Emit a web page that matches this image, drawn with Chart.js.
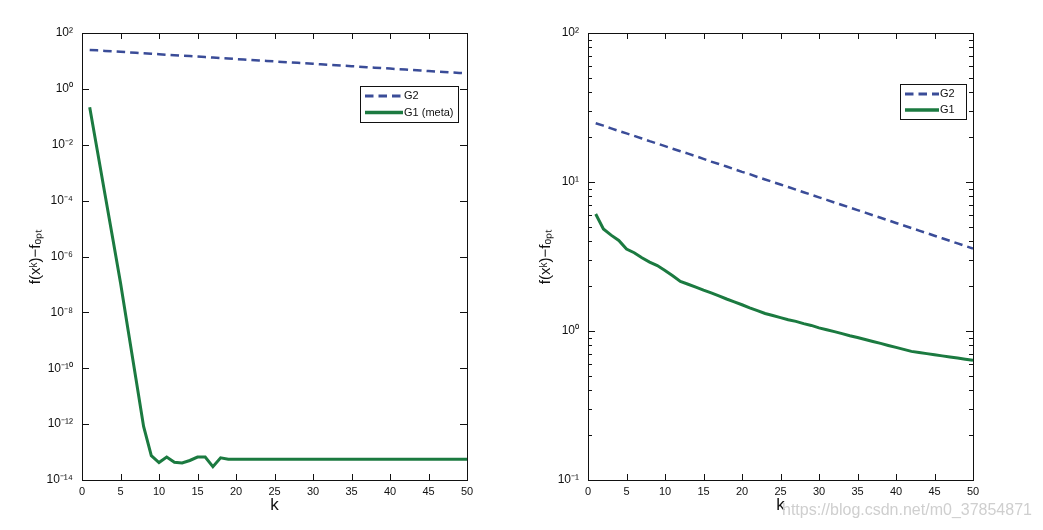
<!DOCTYPE html>
<html>
<head>
<meta charset="utf-8">
<title>G1 vs G2</title>
<script src="https://cdn.jsdelivr.net/npm/chart.js@4"></script>
<style>
  html, body { margin: 0; padding: 0; background: #fff; }
  #page { position: relative; width: 1043px; height: 530px; overflow: hidden; }
  .box { position: absolute; top: 0; height: 530px; }
  #leftBox { left: 0; width: 521px; }
  #rightBox { left: 521px; width: 522px; }
  #mark {
    position: absolute; left: 782px; top: 501px;
    font: 16px "Liberation Sans", Arial, sans-serif; color: #cfcfcf;
  }
</style>
</head>
<body>
<div id="page">
  <div class="box" id="leftBox"><canvas id="leftChart"></canvas></div>
  <div class="box" id="rightBox"><canvas id="rightChart"></canvas></div>
  <div id="mark">https://blog.csdn.net/m0_37854871</div>
</div>
<script>
// iteration index
const kValues = [1, 2, 3, 4, 5, 6, 7, 8, 9, 10, 11, 12, 13, 14, 15, 16, 17, 18, 19, 20,
  21, 22, 23, 24, 25, 26, 27, 28, 29, 30, 31, 32, 33, 34, 35, 36, 37, 38, 39, 40,
  41, 42, 43, 44, 45, 46, 47, 48, 49, 50];

// G2 (same run on both panels)
const g2Values = [24.8, 23.9, 22.9, 22.0, 21.2, 20.4, 19.6, 18.8, 18.1, 17.4,
  16.7, 16.1, 15.5, 14.9, 14.3, 13.7, 13.2, 12.7, 12.2, 11.7,
  11.3, 10.8, 10.4, 10.0, 9.62, 9.25, 8.89, 8.54, 8.21, 7.89,
  7.59, 7.29, 7.01, 6.74, 6.48, 6.23, 5.98, 5.75, 5.53, 5.31,
  5.11, 4.91, 4.72, 4.54, 4.36, 4.19, 4.03, 3.87, 3.72, 3.58];

// G1 (meta), left panel
const g1MetaValues = [0.22, 6e-3, 1.6e-4, 4.3e-6, 1.15e-7, 2.2e-9, 4.3e-11, 8.3e-13, 7.4e-14, 4.2e-14,
  6.6e-14, 4.3e-14, 4.1e-14, 5.0e-14, 6.6e-14, 6.6e-14, 3.0e-14, 6.2e-14, 5.5e-14, 5.5e-14,
  5.5e-14, 5.5e-14, 5.5e-14, 5.5e-14, 5.5e-14, 5.5e-14, 5.5e-14, 5.5e-14, 5.5e-14, 5.5e-14,
  5.5e-14, 5.5e-14, 5.5e-14, 5.5e-14, 5.5e-14, 5.5e-14, 5.5e-14, 5.5e-14, 5.5e-14, 5.5e-14,
  5.5e-14, 5.5e-14, 5.5e-14, 5.5e-14, 5.5e-14, 5.5e-14, 5.5e-14, 5.5e-14, 5.5e-14, 5.5e-14];

// G1, right panel
const g1Values = [6.1, 4.84, 4.4, 4.05, 3.55, 3.35, 3.1, 2.9, 2.75, 2.55,
  2.35, 2.15, 2.06, 1.97, 1.88, 1.80, 1.72, 1.64, 1.57, 1.50,
  1.43, 1.37, 1.31, 1.27, 1.23, 1.19, 1.16, 1.12, 1.09, 1.05,
  1.02, 0.99, 0.96, 0.93, 0.905, 0.877, 0.851, 0.826, 0.80, 0.776,
  0.753, 0.73, 0.718, 0.705, 0.693, 0.681, 0.669, 0.658, 0.646, 0.635];

const xTickValues = [0, 5, 10, 15, 20, 25, 30, 35, 40, 45, 50];
const leftTickValues = [1e-14, 1e-12, 1e-10, 1e-8, 1e-6, 1e-4, 1e-2, 1, 1e2];
const leftTickLabels = ['10⁻¹⁴', '10⁻¹²', '10⁻¹⁰', '10⁻⁸', '10⁻⁶', '10⁻⁴', '10⁻²', '10⁰', '10²'];
const rightTickValues = [0.1, 0.2, 0.3, 0.4, 0.5, 0.6, 0.7, 0.8, 0.9,
  1, 2, 3, 4, 5, 6, 7, 8, 9, 10, 20, 30, 40, 50, 60, 70, 80, 90, 100];
const rightTickLabels = { 0.1: '10⁻¹', 1: '10⁰', 10: '10¹', 100: '10²' };

const FONT = '"Liberation Sans", Arial, Helvetica, sans-serif';
const BLUE = '#3a4c98';
const GREEN = '#1b7a40';

const isDecade = (v) => Math.abs(Math.log10(v) - Math.round(Math.log10(v))) < 1e-9;

// box frame + inward ticks on all four sides
const frameTicks = {
  id: 'frameTicks',
  afterDatasetsDraw(chart) {
    const { ctx, chartArea: a, scales: { x, y } } = chart;
    ctx.save();
    ctx.strokeStyle = '#111';
    ctx.lineWidth = 1;
    ctx.beginPath();
    x.ticks.forEach((t) => {
      const px = Math.round(x.getPixelForValue(t.value)) + 0.5;
      ctx.moveTo(px, a.bottom); ctx.lineTo(px, a.bottom - 6);
      ctx.moveTo(px, a.top); ctx.lineTo(px, a.top + 6);
    });
    y.ticks.forEach((t) => {
      const py = Math.round(y.getPixelForValue(t.value)) + 0.5;
      const len = isDecade(t.value) ? 7 : 4;
      ctx.moveTo(a.left, py); ctx.lineTo(a.left + len, py);
      ctx.moveTo(a.right, py); ctx.lineTo(a.right - len, py);
    });
    ctx.stroke();
    ctx.strokeRect(Math.round(a.left) + 0.5, Math.round(a.top) + 0.5,
      Math.round(a.right - a.left), Math.round(a.bottom - a.top));
    ctx.restore();
  },
};

// boxed legend placed inside the plot
const boxLegend = {
  id: 'boxLegend',
  afterDraw(chart, args, opts) {
    const { ctx } = chart;
    ctx.save();
    ctx.fillStyle = '#fff';
    ctx.fillRect(opts.x, opts.y, opts.w, opts.h);
    ctx.strokeStyle = '#111';
    ctx.lineWidth = 1;
    ctx.strokeRect(opts.x + 0.5, opts.y + 0.5, opts.w, opts.h);
    ctx.font = '11px ' + FONT;
    ctx.textBaseline = 'middle';
    chart.data.datasets.forEach((ds, i) => {
      const cy = opts.y + opts.rowTop + i * opts.rowGap;
      ctx.beginPath();
      ctx.setLineDash(ds.borderDash || []);
      ctx.strokeStyle = ds.borderColor;
      ctx.lineWidth = ds.borderWidth + 0.5;
      ctx.moveTo(opts.x + 5, cy);
      ctx.lineTo(opts.x + 5 + opts.sample, cy);
      ctx.stroke();
      ctx.setLineDash([]);
      ctx.fillStyle = '#111';
      ctx.fillText(ds.label, opts.x + 6 + opts.sample, cy);
    });
    ctx.restore();
  },
};

const toPoints = (vals) => kValues.map((k, i) => ({ x: k, y: vals[i] }));

function makeChart(id, cfg) {
  return new Chart(document.getElementById(id), {
    type: 'line',
    data: {
      datasets: [
        { label: 'G2', data: toPoints(g2Values), borderColor: BLUE, borderWidth: 2.5,
          borderDash: [8.5, 5], pointRadius: 0, tension: 0, fill: false },
        { label: cfg.g1Label, data: toPoints(cfg.g1), borderColor: GREEN, borderWidth: 3,
          pointRadius: 0, tension: 0, fill: false },
      ],
    },
    options: {
      responsive: true,
      maintainAspectRatio: false,
      animation: false,
      layout: { padding: { left: 0, right: cfg.padRight, top: 33, bottom: 0 } },
      plugins: {
        legend: { display: false },
        tooltip: { enabled: false },
        boxLegend: cfg.legend,
      },
      scales: {
        x: {
          type: 'linear', min: 0, max: 50,
          grid: { display: false, drawTicks: false },
          border: { display: false },
          afterBuildTicks: (s) => { s.ticks = xTickValues.map((v) => ({ value: v })); },
          afterFit: (s) => { s.height = 50; },
          ticks: { color: '#111', padding: 5, maxRotation: 0, font: { family: FONT, size: 11 },
            callback: (v) => String(v) },
          title: { display: true, text: 'k', color: '#111', font: { family: FONT, size: 17 },
            padding: { top: 0, bottom: 14 } },
        },
        y: {
          type: 'logarithmic', min: cfg.yMin, max: cfg.yMax,
          grid: { display: false, drawTicks: false },
          border: { display: false },
          afterBuildTicks: (s) => { s.ticks = cfg.tickValues.map((v) => ({ value: v })); },
          afterFit: (s) => { s.width = cfg.yWidth; },
          ticks: { color: '#111', padding: 9, autoSkip: false, font: { family: FONT, size: 12 },
            callback: cfg.tickLabel },
          title: { display: true, text: 'f(xᵏ)−fₒₚₜ', color: '#111', font: { family: FONT, size: 15 },
            padding: { top: cfg.titlePad, bottom: 0 } },
        },
      },
    },
    plugins: [frameTicks, boxLegend],
  });
}

makeChart('leftChart', {
  g1: g1MetaValues, g1Label: 'G1 (meta)',
  yMin: 1e-14, yMax: 1e2, tickValues: leftTickValues,
  tickLabel: (v) => { const i = leftTickValues.findIndex((t) => Math.abs(Math.log10(t) - Math.log10(v)) < 1e-9); return i >= 0 ? leftTickLabels[i] : ''; },
  yWidth: 82, padRight: 54, titlePad: 27,
  legend: { x: 360, y: 86, w: 98, h: 36, sample: 38, rowTop: 10, rowGap: 16.5 },
});

makeChart('rightChart', {
  g1: g1Values, g1Label: 'G1',
  yMin: 0.1, yMax: 100, tickValues: rightTickValues,
  tickLabel: (v) => { const key = rightTickValues.find((t) => Math.abs(t - v) < 1e-9 * t); return rightTickLabels[key] || ''; },
  yWidth: 67, padRight: 70, titlePad: 16,
  legend: { x: 379, y: 84, w: 66, h: 35, sample: 34, rowTop: 10, rowGap: 16 },
});
</script>
</body>
</html>
